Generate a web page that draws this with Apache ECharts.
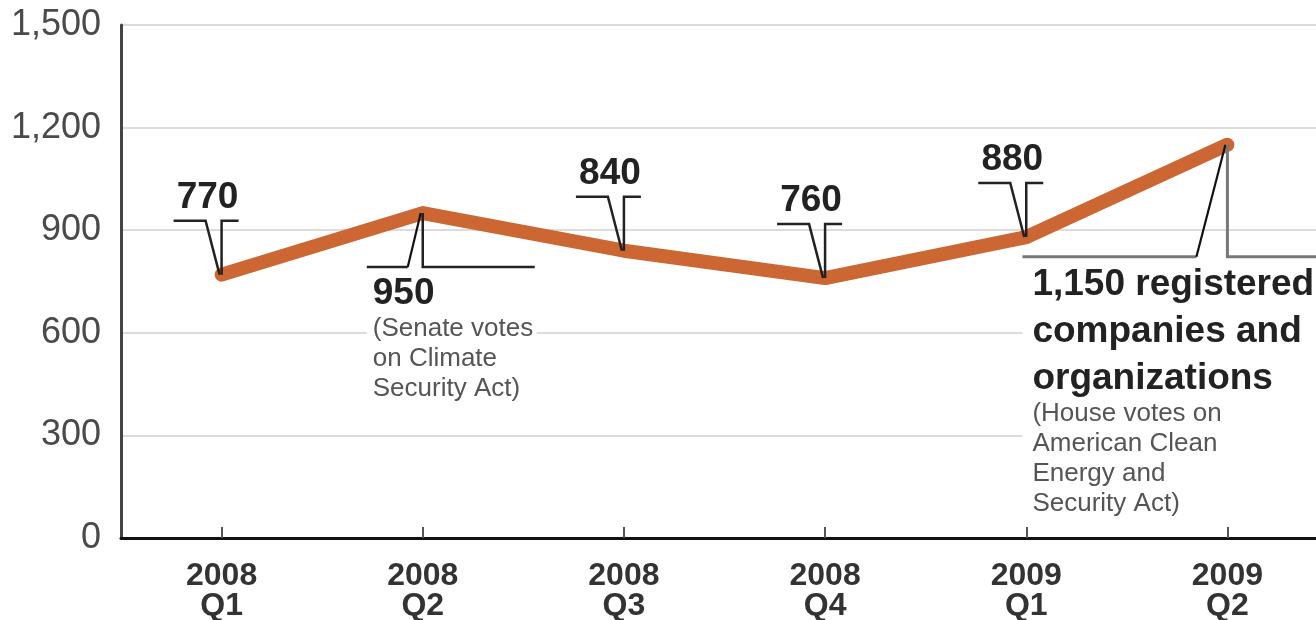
<!DOCTYPE html>
<html>
<head>
<meta charset="utf-8">
<script src="https://cdn.jsdelivr.net/npm/echarts@6/dist/echarts.min.js"></script>
<style>
  html, body { margin: 0; padding: 0; background: #fff; }
  #chart { width: 1316px; height: 620px; }
</style>
</head>
<body>
<div id="chart"></div>
<script>
// Registered climate lobbying clients per quarter
const years = ['2008', '2008', '2008', '2008', '2009', '2009'];
const quarters = ['Q1', 'Q2', 'Q3', 'Q4', 'Q1', 'Q2'];
const registrations = [770, 950, 840, 760, 880, 1150];
const yMax = 1500;
const yStep = 300;

// Extra wording attached to some callouts
const headlineSuffix = ['', '', '', '', '', ' registered\ncompanies and\norganizations'];
const notes = ['', '(Senate votes\non Climate\nSecurity Act)', '', '', '', '(House votes on\nAmerican Clean\nEnergy and\nSecurity Act)'];

// Callout geometry (pixels relative to the point)
const calloutLayout = [
  { dir: 'up' },
  { dir: 'down', drop: 54, leftArm: 56, rightArm: 112, slant: 15, textX: -50, headY: 7, noteY: 47, boxW: 170, boxH: 138, heavy: false },
  { dir: 'up' },
  { dir: 'up' },
  { dir: 'up' },
  { dir: 'down', drop: 112, leftArm: 205, rightArm: 110, slant: 31, textX: -195, headY: 5, noteY: 142, boxW: 320, boxH: 266, heavy: true }
];

const FONT = '"Liberation Sans", Arial, Helvetica, sans-serif';
const fmt = v => String(v).replace(/\B(?=(\d{3})+(?!\d))/g, ',');

const chart = echarts.init(document.getElementById('chart'), null, { renderer: 'canvas' });

chart.setOption({
  backgroundColor: '#ffffff',
  animation: false,
  grid: { left: 121, top: 25, width: 1207, height: 513, outerBoundsMode: 'none', containLabel: false },
  xAxis: {
    type: 'category',
    data: years.map((y, i) => y + '\n' + quarters[i]),
    boundaryGap: true,
    axisLine: { show: true, lineStyle: { color: '#111', width: 3 } },
    axisTick: { show: true, alignWithLabel: true, inside: true, length: 11, lineStyle: { color: '#555', width: 2 } },
    axisLabel: {
      color: '#333', fontFamily: FONT, fontSize: 32, fontWeight: 'bold',
      lineHeight: 30, margin: 23, interval: 0
    },
    splitLine: { show: false }
  },
  yAxis: {
    type: 'value',
    min: 0, max: yMax, interval: yStep,
    axisLine: { show: true, lineStyle: { color: '#444', width: 3 } },
    axisTick: { show: false },
    axisLabel: {
      color: '#4a4a4a', fontFamily: FONT, fontSize: 36, margin: 20,
      formatter: v => fmt(v)
    },
    splitLine: { show: true, lineStyle: { color: '#dcdcdc', width: 2 } }
  },
  series: [{
    type: 'line',
    data: registrations,
    symbol: 'none',
    lineStyle: { color: '#cc6633', width: 14, cap: 'round', join: 'round' },
    z: 3
  }]
});

// Bracket callouts are positioned from the series' own pixel coordinates
const graphics = [];
const ink = '#222';
registrations.forEach((v, i) => {
  const [px, py] = chart.convertToPixel({ seriesIndex: 0 }, [i, v]);
  const L = calloutLayout[i];
  if (L.dir === 'up') {
    const barY = py - 54;
    graphics.push({
      type: 'polyline', z: 100, silent: true,
      shape: { points: [[px - 48, barY], [px - 16, barY], [px - 2, py]] },
      style: { stroke: ink, lineWidth: 2.5, fill: null }
    });
    graphics.push({
      type: 'polyline', z: 100, silent: true,
      shape: { points: [[px, py], [px, barY], [px + 17, barY]] },
      style: { stroke: ink, lineWidth: 2.5, fill: null }
    });
    graphics.push({
      type: 'text', z: 100, silent: true,
      x: px - 14, y: barY - 43,
      style: {
        text: fmt(v), fill: '#222', fontFamily: FONT, fontSize: 37, fontWeight: 'bold',
        lineHeight: 40, align: 'center', verticalAlign: 'top'
      }
    });
  } else {
    const barY = py + L.drop;
    const barColor = L.heavy ? '#777' : ink;
    const barW = L.heavy ? 3 : 2.5;
    // white panel behind the text block
    graphics.push({
      type: 'rect', z: 90, silent: true,
      shape: { x: px - L.leftArm, y: barY + 3, width: L.boxW, height: L.boxH },
      style: { fill: '#ffffff' }
    });
    graphics.push({
      type: 'polyline', z: 100, silent: true,
      shape: { points: [[px - L.leftArm, barY], [px - L.slant, barY]] },
      style: { stroke: barColor, lineWidth: barW, fill: null }
    });
    graphics.push({
      type: 'line', z: 100, silent: true,
      shape: { x1: px - L.slant, y1: barY, x2: px - 2, y2: py },
      style: { stroke: '#111', lineWidth: 2.2 }
    });
    graphics.push({
      type: 'polyline', z: 100, silent: true,
      shape: { points: [[px, py], [px, barY], [px + L.rightArm, barY]] },
      style: { stroke: barColor, lineWidth: barW, fill: null }
    });
    graphics.push({
      type: 'text', z: 100, silent: true,
      x: px + L.textX, y: barY + L.headY,
      style: {
        text: fmt(v) + headlineSuffix[i], fill: '#222', fontFamily: FONT, fontSize: 37,
        fontWeight: 'bold', lineHeight: L.heavy ? 47 : 40, align: 'left', verticalAlign: 'top'
      }
    });
    graphics.push({
      type: 'text', z: 100, silent: true,
      x: px + L.textX, y: barY + L.noteY,
      style: {
        text: notes[i], fill: '#555', fontFamily: FONT, fontSize: 26,
        lineHeight: 30, align: 'left', verticalAlign: 'top'
      }
    });
  }
});

chart.setOption({ graphic: { elements: graphics } });
</script>
</body>
</html>
